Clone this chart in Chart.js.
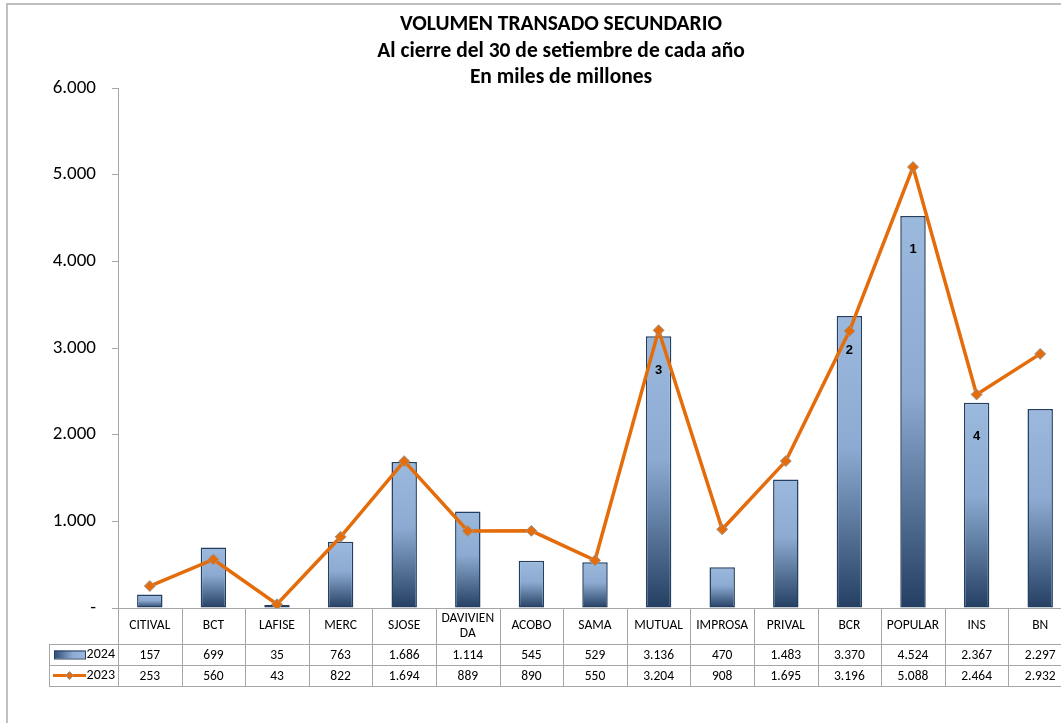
<!DOCTYPE html>
<html>
<head>
<meta charset="utf-8">
<script src="https://cdn.jsdelivr.net/npm/chart.js@4.4.1/dist/chart.umd.min.js"></script>
<style>
  html, body { margin: 0; padding: 0; background: #fff; overflow: hidden; }
  #wrap { width: 1080px; height: 723px; }
</style>
</head>
<body>
<div id="wrap"><canvas id="chart" width="1080" height="723"></canvas></div>
<script>
/*********************************************************
 * DATA
 *********************************************************/
const titleLines = [
  "VOLUMEN TRANSADO SECUNDARIO",
  "Al cierre del 30 de setiembre de cada año",
  "En miles de millones"
];

const categories = [
  "CITIVAL", "BCT", "LAFISE", "MERC", "SJOSE", ["DAVIVIEN", "DA"], "ACOBO",
  "SAMA", "MUTUAL", "IMPROSA", "PRIVAL", "BCR", "POPULAR", "INS", "BN"
];

const values2024 = [157, 699, 35, 763, 1686, 1114, 545, 529, 3136, 470, 1483, 3370, 4524, 2367, 2297];
const values2023 = [253, 560, 43, 822, 1694, 889, 890, 550, 3204, 908, 1695, 3196, 5088, 2464, 2932];

// ranking numbers written inside the 2024 bars
const ranks2024 = [null, null, null, null, null, null, null, null, 3, null, null, 2, 1, 4, null];

const yMin = 0;
const yMax = 6000;
const yStep = 1000;

/*********************************************************
 * STYLE
 *********************************************************/
const FONT = "Carlito, Lato, 'Liberation Sans', sans-serif";
const ORANGE = "#E46C0A";
const NAVY = "#243F60";
const GRID = "#A6A6A6";

function fmt(v) {
  return String(v).replace(/\B(?=(\d{3})+(?!\d))/g, ".");
}

function barGradient(ctx, x0, y0, x1, y1) {
  const g = ctx.createLinearGradient(x0, y0, x1, y1);
  g.addColorStop(0, "#9BB9DD");
  g.addColorStop(0.45, "#8DABD2");
  g.addColorStop(1, "#243F62");
  return g;
}

/*********************************************************
 * PLUGINS
 *********************************************************/
const frame = {
  id: "frame",
  beforeDraw(chart) {
    const c = chart.ctx;
    c.save();
    c.strokeStyle = "#C0C0C0";
    c.lineWidth = 2;
    c.strokeRect(7, 4, chart.width + 20, chart.height + 20);
    c.restore();
  }
};

const titleText = {
  id: "titleText",
  afterDraw(chart) {
    const c = chart.ctx;
    c.save();
    c.fillStyle = "#000";
    c.font = "bold 21.5px " + FONT;
    c.textAlign = "center";
    c.textBaseline = "middle";
    titleLines.forEach((t, i) => c.fillText(t, 561, 25 + i * 26.5));
    c.restore();
  }
};

const rankLabels = {
  id: "rankLabels",
  afterDatasetsDraw(chart) {
    const c = chart.ctx;
    const meta = chart.getDatasetMeta(1);
    c.save();
    c.fillStyle = "#000";
    c.font = "bold 13px Arial, 'Liberation Sans', sans-serif";
    c.textAlign = "center";
    c.textBaseline = "middle";
    ranks2024.forEach((r, i) => {
      if (r == null) return;
      const bar = meta.data[i];
      c.fillText(String(r), bar.x, bar.y + 34);
    });
    c.restore();
  }
};

const dataTable = {
  id: "dataTable",
  afterDraw(chart) {
    const c = chart.ctx;
    const x = chart.scales.x;
    const area = chart.chartArea;
    const cw = x.getPixelForValue(1) - x.getPixelForValue(0);
    const left = x.getPixelForValue(0) - cw / 2;
    const right = x.getPixelForValue(categories.length - 1) + cw / 2;
    const legLeft = 49;
    const top = area.bottom;
    const r1 = top + 36, r2 = r1 + 21, r3 = r2 + 21;

    c.save();
    c.strokeStyle = GRID;
    c.lineWidth = 1;
    c.beginPath();
    for (let i = 0; i <= categories.length; i++) {
      const xx = Math.round(left + i * cw) + 0.5;
      c.moveTo(xx, top); c.lineTo(xx, r3);
    }
    c.moveTo(legLeft + 0.5, r1); c.lineTo(legLeft + 0.5, r3);
    [r1, r2, r3].forEach(y => {
      c.moveTo(legLeft, Math.round(y) + 0.5);
      c.lineTo(right, Math.round(y) + 0.5);
    });
    c.stroke();

    // header
    c.fillStyle = "#000";
    c.textAlign = "center";
    c.textBaseline = "middle";
    c.font = "13.5px " + FONT;
    categories.forEach((lab, i) => {
      const cx = x.getPixelForValue(i);
      const lines = Array.isArray(lab) ? lab : [lab];
      const mid = (top + r1) / 2;
      lines.forEach((l, k) => c.fillText(l, cx, mid + (k - (lines.length - 1) / 2) * 15));
    });

    // values
    c.font = "13.5px " + FONT;
    values2024.forEach((v, i) => c.fillText(fmt(v), x.getPixelForValue(i), (r1 + r2) / 2 + 1));
    values2023.forEach((v, i) => c.fillText(fmt(v), x.getPixelForValue(i), (r2 + r3) / 2 + 1));

    // legend keys
    const ky1 = (r1 + r2) / 2, ky2 = (r2 + r3) / 2;
    const g = c.createLinearGradient(54, 0, 85, 0);
    g.addColorStop(0, "#2A4A72");
    g.addColorStop(0.6, "#8DABD2");
    g.addColorStop(1, "#9BB9DD");
    c.fillStyle = g;
    c.fillRect(54, ky1 - 4, 31, 8);
    c.strokeStyle = NAVY;
    c.strokeRect(54.5, ky1 - 3.5, 31, 8);

    c.strokeStyle = ORANGE;
    c.lineWidth = 3;
    c.beginPath();
    c.moveTo(53, ky2); c.lineTo(86, ky2);
    c.stroke();
    c.fillStyle = ORANGE;
    c.strokeStyle = "#999";
    c.lineWidth = 1;
    c.beginPath();
    c.moveTo(69.5, ky2 - 4); c.lineTo(73.5, ky2); c.lineTo(69.5, ky2 + 4); c.lineTo(65.5, ky2);
    c.closePath();
    c.fill(); c.stroke();

    const barSet = chart.data.datasets.find(d => d.type === "bar");
    const lineSet = chart.data.datasets.find(d => d.type === "line");
    c.fillStyle = "#000";
    c.textAlign = "right";
    c.font = "14px " + FONT;
    c.fillText(barSet.label, 115, ky1);
    c.fillText(lineSet.label, 115, ky2);
    c.restore();
  }
};

/*********************************************************
 * CHART
 *********************************************************/
const ctx = document.getElementById("chart").getContext("2d");

const chart = new Chart(ctx, {
  data: {
    labels: categories,
    datasets: [
      {
        type: "line",
        label: "2023",
        data: values2023,
        borderColor: ORANGE,
        borderWidth: 3.5,
        pointStyle: "rectRot",
        pointRadius: 5.5,
        pointBackgroundColor: ORANGE,
        pointBorderColor: "#9A9A9A",
        pointBorderWidth: 1,
        tension: 0,
        order: 0
      },
      {
        type: "bar",
        label: "2024",
        data: values2024,
        backgroundColor: (c) => {
          const ch = c.chart;
          if (!ch.chartArea || c.type !== "data") return "#95B3D7";
          const y = ch.scales.y;
          return barGradient(ch.ctx, 0, y.getPixelForValue(c.raw), 0, y.getPixelForValue(0));
        },
        borderColor: NAVY,
        borderWidth: 1.5,
        borderSkipped: false,
        barPercentage: 0.4,
        categoryPercentage: 1,
        order: 1
      }
    ]
  },
  options: {
    responsive: false,
    animation: false,
    devicePixelRatio: 1,
    layout: { padding: { top: 88, left: 0, right: 8, bottom: 0 } },
    plugins: {
      legend: { display: false },
      title: { display: false },
      tooltip: { enabled: false }
    },
    scales: {
      x: {
        grid: { display: false },
        ticks: { display: false },
        border: { display: true, color: GRID, width: 1 },
        afterFit(scale) { scale.height = 115; }
      },
      y: {
        min: yMin,
        max: yMax,
        ticks: {
          stepSize: yStep,
          color: "#000",
          padding: 16,
          font: { family: FONT, size: 19 },
          callback: (v) => v === 0 ? "-" : fmt(v)
        },
        grid: { drawOnChartArea: false, drawTicks: true, tickLength: 6, color: GRID },
        border: { display: true, color: GRID, width: 1 },
        afterFit(scale) { scale.width = 118; }
      }
    }
  },
  plugins: [frame, rankLabels, dataTable, titleText]
});
</script>
</body>
</html>
